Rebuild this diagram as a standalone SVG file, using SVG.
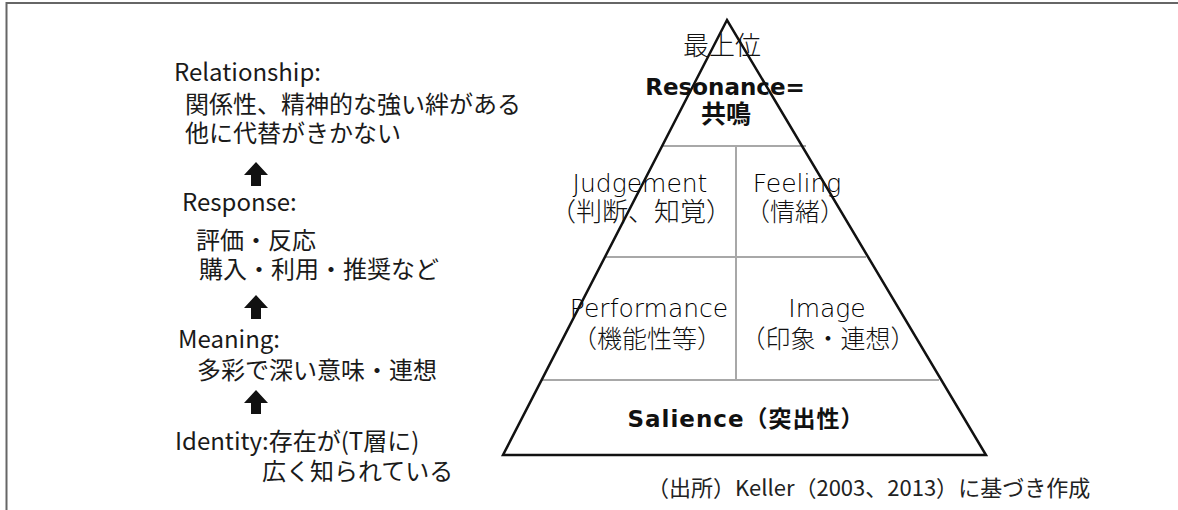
<svg xmlns="http://www.w3.org/2000/svg" xmlns:xlink="http://www.w3.org/1999/xlink" width="1178" height="510" viewBox="0 0 1178 510">
<style>
.lt{font-family:"Liberation Sans Narrow","Noto Sans CJK JP",sans-serif;font-size:24px;fill:#1a1a1a}
.jp{font-family:"Noto Sans CJK JP",sans-serif;font-size:24px;fill:#1a1a1a}
.pl{font-family:"DejaVu Sans","Noto Sans CJK JP",sans-serif;font-size:25px;font-weight:200;fill:#000;text-anchor:middle}
.pj{font-family:"Noto Sans CJK JP",sans-serif;font-size:25px;font-weight:300;fill:#111;text-anchor:middle}
.pb{font-family:"DejaVu Sans","Noto Sans CJK JP",sans-serif;font-size:23px;font-weight:bold;fill:#111;text-anchor:middle}
.src{font-family:"Noto Sans CJK JP",sans-serif;font-size:22px;fill:#222}
.grid{stroke:#a8a8a8;stroke-width:2;fill:none}
</style>
<defs>
<path id="up" d="M0,0 L12,13 L5,13 L5,24 L-5,24 L-5,13 L-12,13 Z" fill="#111"/>
</defs>
<rect width="1178" height="510" fill="#fff"/>
<path d="M6.5,510 L6.5,3 L1178,3" fill="none" stroke="#666" stroke-width="2"/>

<g id="relationship">
<text class="lt" x="174" y="81">Relationship:</text>
<text class="jp" x="185" y="113">関係性、精神的な強い絆がある</text>
<text class="jp" x="185" y="142">他に代替がきかない</text>
</g>
<g id="response">
<text class="lt" x="182" y="211">Response:</text>
<text class="jp" x="196" y="249">評価・反応</text>
<text class="jp" x="199" y="278">購入・利用・推奨など</text>
</g>
<g id="meaning">
<text class="lt" x="178" y="348">Meaning:</text>
<text class="jp" x="197" y="379">多彩で深い意味・連想</text>
</g>
<g id="identity">
<text class="lt" x="175" y="450">Identity:存在が(T層に)</text>
<text class="jp" x="262" y="480">広く知られている</text>
</g>

<g id="connectors">
<use xlink:href="#up" x="256" y="162"/>
<use xlink:href="#up" x="256" y="295"/>
<use xlink:href="#up" x="256" y="390"/>
</g>

<g id="pyramid">
<line class="grid" x1="662" y1="146" x2="806" y2="146"/>
<line class="grid" x1="604" y1="257" x2="866" y2="257"/>
<line class="grid" x1="541" y1="380" x2="939" y2="380"/>
<line class="grid" x1="736" y1="146" x2="736" y2="380"/>
</g>

<g id="top-label">
<text class="pj" x="722" y="55" style="font-size:26px">最上位</text>
</g>
<g id="resonance">
<text class="pb" x="725" y="95">Resonance=</text>
<text class="pb" x="726" y="123" style="font-size:25px">共鳴</text>
</g>
<g id="judgement">
<text class="pl" x="640" y="192">Judgement</text>
<text class="pj" x="641" y="221" style="font-size:26px">（判断、知覚）</text>
</g>
<g id="feeling">
<text class="pl" x="797" y="192">Feeling</text>
<text class="pj" x="795" y="221">（情緒）</text>
</g>
<g id="performance">
<text class="pl" x="649" y="317">Performance</text>
<text class="pj" x="647" y="348">（機能性等）</text>
</g>
<g id="image">
<text class="pl" x="827" y="317">Image</text>
<text class="pj" x="828" y="348">（印象・連想）</text>
</g>
<g id="salience">
<text class="pb" x="746" y="427" letter-spacing="1">Salience（突出性）</text>
</g>
<g id="outline">
<polygon points="727,20 503,455 986,455" fill="none" stroke="#111" stroke-width="2.5" stroke-linejoin="miter"/>
</g>

<g id="source">
<text class="src" x="647" y="496">（出所）Keller（2003、2013）に基づき作成</text>
</g>
</svg>
